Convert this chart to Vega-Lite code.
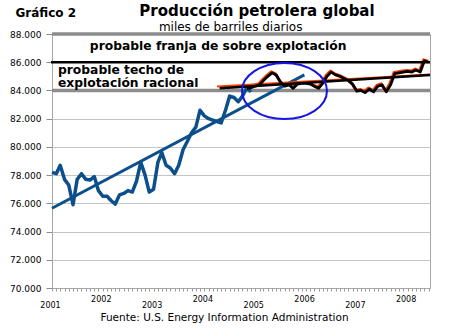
{
  "$schema": "https://vega.github.io/schema/vega-lite/v6.json",
  "width": 378,
  "height": 254,
  "autosize": "none",
  "padding": {"left": 52, "top": 34, "right": 20, "bottom": 43},
  "background": "white",
  "config": {"view": {"stroke": "#a6a6a6", "strokeWidth": 1}, "font": "DejaVu Sans"},
  "title": {
    "text": "Producción petrolera global",
    "subtitle": "miles de barriles diarios\u2800\u2800\u2800\u2800\u2800\u2800",
    "anchor": "middle",
    "frame": "group",
    "dx": 16,
    "offset": -27,
    "font": "DejaVu Sans",
    "fontSize": 15,
    "fontWeight": "bold",
    "color": "black",
    "subtitleFont": "DejaVu Sans",
    "subtitleFontSize": 12,
    "subtitleColor": "black",
    "subtitlePadding": 3
  },
  "datasets": {
    "azul": [
      {"fecha": "2001-01-01", "valor": 78200}, {"fecha": "2001-02-01", "valor": 78100},
      {"fecha": "2001-03-01", "valor": 78700}, {"fecha": "2001-04-01", "valor": 77700},
      {"fecha": "2001-05-01", "valor": 77300}, {"fecha": "2001-06-01", "valor": 75900},
      {"fecha": "2001-07-01", "valor": 77700}, {"fecha": "2001-08-01", "valor": 78100},
      {"fecha": "2001-09-01", "valor": 77700}, {"fecha": "2001-10-01", "valor": 77650},
      {"fecha": "2001-11-01", "valor": 77900}, {"fecha": "2001-12-01", "valor": 76900},
      {"fecha": "2002-01-01", "valor": 76500}, {"fecha": "2002-02-01", "valor": 76500},
      {"fecha": "2002-03-01", "valor": 76200}, {"fecha": "2002-04-01", "valor": 75950},
      {"fecha": "2002-05-01", "valor": 76600}, {"fecha": "2002-06-01", "valor": 76700},
      {"fecha": "2002-07-01", "valor": 76900}, {"fecha": "2002-08-01", "valor": 76800},
      {"fecha": "2002-09-01", "valor": 77600}, {"fecha": "2002-10-01", "valor": 78900},
      {"fecha": "2002-11-01", "valor": 78000}, {"fecha": "2002-12-01", "valor": 76800},
      {"fecha": "2003-01-01", "valor": 77000}, {"fecha": "2003-02-01", "valor": 78900},
      {"fecha": "2003-03-01", "valor": 79600}, {"fecha": "2003-04-01", "valor": 78700},
      {"fecha": "2003-05-01", "valor": 78500}, {"fecha": "2003-06-01", "valor": 78100},
      {"fecha": "2003-07-01", "valor": 78700}, {"fecha": "2003-08-01", "valor": 79800},
      {"fecha": "2003-09-01", "valor": 80400}, {"fecha": "2003-10-01", "valor": 81000},
      {"fecha": "2003-11-01", "valor": 81400}, {"fecha": "2003-12-01", "valor": 82600},
      {"fecha": "2004-01-01", "valor": 82200}, {"fecha": "2004-02-01", "valor": 82000},
      {"fecha": "2004-03-01", "valor": 81900}, {"fecha": "2004-04-01", "valor": 81800},
      {"fecha": "2004-05-01", "valor": 81700}, {"fecha": "2004-06-01", "valor": 82600},
      {"fecha": "2004-07-01", "valor": 83600}, {"fecha": "2004-08-01", "valor": 83500},
      {"fecha": "2004-09-01", "valor": 83200}, {"fecha": "2004-10-01", "valor": 83600},
      {"fecha": "2004-11-01", "valor": 84200}, {"fecha": "2004-12-01", "valor": 83900}
    ],
    "negra": [
      {"fecha": "2004-11-01", "valor": 84150}, {"fecha": "2004-12-01", "valor": 84200},
      {"fecha": "2005-01-01", "valor": 84300}, {"fecha": "2005-02-01", "valor": 84400},
      {"fecha": "2005-03-01", "valor": 84700}, {"fecha": "2005-04-01", "valor": 85000},
      {"fecha": "2005-05-01", "valor": 85250}, {"fecha": "2005-06-01", "valor": 85100},
      {"fecha": "2005-07-01", "valor": 84600}, {"fecha": "2005-08-01", "valor": 84300},
      {"fecha": "2005-09-01", "valor": 84400}, {"fecha": "2005-10-01", "valor": 84150},
      {"fecha": "2005-11-01", "valor": 84450}, {"fecha": "2005-12-01", "valor": 84500},
      {"fecha": "2006-01-01", "valor": 84500}, {"fecha": "2006-02-01", "valor": 84450},
      {"fecha": "2006-03-01", "valor": 84300}, {"fecha": "2006-04-01", "valor": 84150},
      {"fecha": "2006-05-01", "valor": 84500}, {"fecha": "2006-06-01", "valor": 85000},
      {"fecha": "2006-07-01", "valor": 85300}, {"fecha": "2006-08-01", "valor": 85100},
      {"fecha": "2006-09-01", "valor": 85000}, {"fecha": "2006-10-01", "valor": 84850},
      {"fecha": "2006-11-01", "valor": 84700}, {"fecha": "2006-12-01", "valor": 84450},
      {"fecha": "2007-01-01", "valor": 83950}, {"fecha": "2007-02-01", "valor": 84000},
      {"fecha": "2007-03-01", "valor": 83850}, {"fecha": "2007-04-01", "valor": 84100},
      {"fecha": "2007-05-01", "valor": 83900}, {"fecha": "2007-06-01", "valor": 84300},
      {"fecha": "2007-07-01", "valor": 84400}, {"fecha": "2007-08-01", "valor": 83900},
      {"fecha": "2007-09-01", "valor": 84400}, {"fecha": "2007-10-01", "valor": 85200},
      {"fecha": "2007-11-01", "valor": 85250}, {"fecha": "2007-12-01", "valor": 85300},
      {"fecha": "2008-01-01", "valor": 85350}, {"fecha": "2008-02-01", "valor": 85300},
      {"fecha": "2008-03-01", "valor": 85450}, {"fecha": "2008-04-01", "valor": 85300},
      {"fecha": "2008-05-01", "valor": 86100}, {"fecha": "2008-06-01", "valor": 86000}
    ],
    "tendencia_azul": [
      {"fecha": "2001-01-01", "valor": 75650}, {"fecha": "2005-12-20", "valor": 85100}
    ],
    "tendencia_negra": [
      {"fecha": "2004-04-20", "valor": 84150}, {"fecha": "2008-06-10", "valor": 85100}
    ],
    "tendencia_roja": [
      {"fecha": "2004-04-01", "valor": 84200}, {"fecha": "2008-06-10", "valor": 85050}
    ],
    "niveles": [
      {"fecha": "2001-01-01", "fecha_fin": "2008-06-10", "valor": 88000, "nivel": "techo"},
      {"fecha": "2000-12-25", "fecha_fin": "2008-06-10", "valor": 86000, "nivel": "sobre"},
      {"fecha": "2001-01-01", "fecha_fin": "2008-06-10", "valor": 84000, "nivel": "racional"}
    ],
    "elipse": [
      {"fecha": "2005-07-30", "valor": 83960}
    ],
    "notas": [
      {"fecha": "2001-09-30", "valor": 87150, "texto": "probable franja de sobre explotación"},
      {"fecha": "2001-02-13", "valor": 85450, "texto": "probable techo de"},
      {"fecha": "2001-02-13", "valor": 84530, "texto": "explotación racional"}
    ]
  },
  "encoding": {
    "x": {
      "field": "fecha",
      "type": "temporal",
      "scale": {"type": "utc", "domain": ["2001-01-01", "2008-06-10"], "nice": false},
      "axis": {
        "title": "Fuente: U.S. Energy Information Administration",
        "titleFont": "DejaVu Sans",
        "titleFontSize": 10.5,
        "titleFontWeight": "normal",
        "titleColor": "black",
        "titleX": 172,
        "titleY": 32,
        "titleAlign": "center",
        "titleBaseline": "alphabetic",
        "tickCount": {"interval": "month", "step": 1},
        "labelExpr": "utcmonth(datum.value) == 0 ? utcFormat(datum.value, '%Y') : ''",
        "labelPadding": {"condition": {"test": "utcyear(datum.value) % 2 == 1", "value": 10.5}, "value": 4},
        "labelOffset": -2,
        "labelOverlap": false,
        "labelFlush": false,
        "labelBound": false,
        "labelFont": "DejaVu Sans",
        "labelFontSize": 8,
        "labelColor": "black",
        "tickSize": 3,
        "tickColor": "#9a9a9a",
        "domainColor": "#a6a6a6",
        "grid": false
      }
    },
    "y": {
      "field": "valor",
      "type": "quantitative",
      "scale": {"domain": [70000, 88000], "nice": false, "zero": false},
      "axis": {
        "values": [70000, 72000, 74000, 76000, 78000, 80000, 82000, 84000, 86000, 88000],
        "labelExpr": "replace(format(datum.value, ',.0f'), ',', '.')",
        "labelOverlap": false,
        "labelFont": "DejaVu Sans",
        "labelFontSize": 9,
        "labelColor": "black",
        "labelPadding": 5,
        "tickSize": 6,
        "tickColor": "#8c8c8c",
        "domainColor": "#a6a6a6",
        "grid": true,
        "gridColor": "#c4c4c4",
        "title": "Gráfico 2",
        "titleFont": "DejaVu Sans",
        "titleFontSize": 12,
        "titleFontWeight": "bold",
        "titleColor": "black",
        "titleAngle": 0,
        "titleAlign": "left",
        "titleBaseline": "alphabetic",
        "titleX": -37,
        "titleY": -18
      }
    }
  },
  "layer": [
    {
      "data": {"name": "niveles"},
      "transform": [{"filter": "datum.nivel != 'sobre'"}],
      "mark": {"type": "rule", "color": "#8c8c8c", "strokeWidth": 3.5},
      "encoding": {"x2": {"field": "fecha_fin"}}
    },
    {
      "data": {"name": "tendencia_azul"},
      "mark": {"type": "line", "color": "#0d4f8b", "strokeWidth": 3},
      "encoding": {}
    },
    {
      "data": {"name": "azul"},
      "mark": {"type": "line", "color": "#0d4f8b", "strokeWidth": 3.5, "strokeJoin": "round"},
      "encoding": {}
    },
    {
      "data": {"name": "tendencia_roja"},
      "mark": {"type": "line", "color": "#ff3d00", "strokeWidth": 2, "yOffset": -1.2},
      "encoding": {}
    },
    {
      "data": {"name": "negra"},
      "mark": {"type": "line", "color": "#ff3d00", "strokeWidth": 3, "xOffset": -0.8, "yOffset": -1, "strokeJoin": "round"},
      "encoding": {}
    },
    {
      "data": {"name": "tendencia_negra"},
      "mark": {"type": "line", "color": "black", "strokeWidth": 2.5},
      "encoding": {}
    },
    {
      "data": {"name": "negra"},
      "mark": {"type": "line", "color": "black", "strokeWidth": 2.8, "strokeJoin": "round"},
      "encoding": {}
    },
    {
      "data": {"name": "niveles"},
      "transform": [{"filter": "datum.nivel == 'sobre'"}],
      "mark": {"type": "rule", "color": "black", "strokeWidth": 2.5, "clip": false},
      "encoding": {"x2": {"field": "fecha_fin"}}
    },
    {
      "data": {"name": "elipse"},
      "mark": {
        "type": "point",
        "shape": "M-1,0 C-1,-0.3645 -0.5523,-0.66 0,-0.66 C0.5523,-0.66 1,-0.3645 1,0 C1,0.3645 0.5523,0.66 0,0.66 C-0.5523,0.66 -1,0.3645 -1,0 Z",
        "size": 7225,
        "filled": false,
        "stroke": "#1515e8",
        "strokeWidth": 2,
        "opacity": 1
      },
      "encoding": {}
    },
    {
      "data": {"name": "notas"},
      "mark": {"type": "text", "align": "left", "baseline": "middle", "font": "DejaVu Sans", "fontSize": 12.3, "fontWeight": "bold", "color": "black"},
      "encoding": {"text": {"field": "texto"}}
    }
  ]
}
